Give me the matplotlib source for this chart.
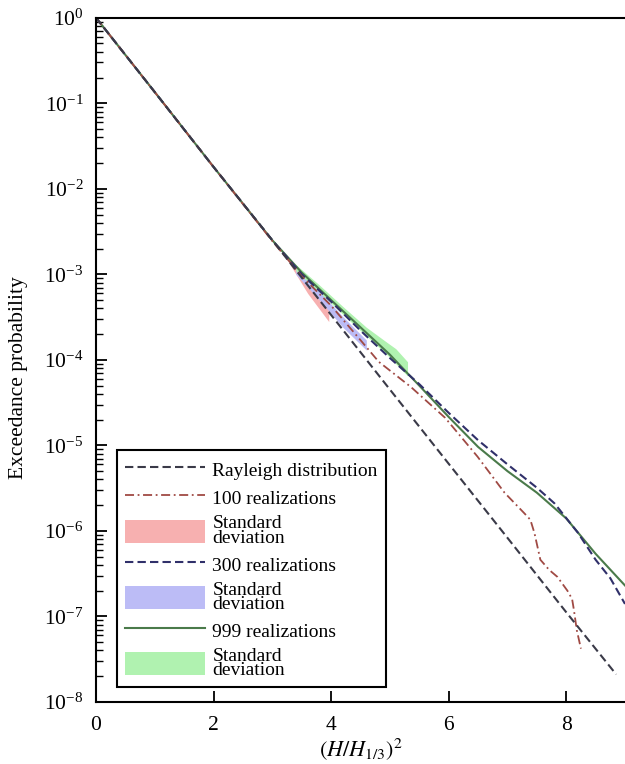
import numpy as np
import matplotlib.pyplot as plt
from matplotlib.patches import Patch, Rectangle
from matplotlib.lines import Line2D
from matplotlib.legend_handler import HandlerPatch

plt.rcParams['font.family'] = ['Liberation Serif', 'DejaVu Serif']
plt.rcParams['mathtext.fontset'] = 'stix'

# Rayleigh
x_ray = [0, 1, 2, 3, 4, 5, 6, 7, 8, 8.85]
p_ray = [1.0, 1.35e-1, 1.8e-2, 2.5e-3, 3.35e-4, 4.5e-5, 6.1e-6, 8.3e-7, 1.12e-7, 2.1e-8]

# 100 realizations
x_100 = [0, 1, 2, 3, 3.5, 4, 4.5, 4.81, 5.36, 5.94, 6.49, 6.95, 7.29, 7.39, 7.46,
         7.56, 7.71, 7.85, 8.02, 8.1, 8.13, 8.18, 8.25]
p_100 = [1, 0.135, 1.8e-2, 2.45e-3, 9.5e-4, 4.3e-4, 1.7e-4, 9.5e-5, 4.8e-5, 2.1e-5,
         7.4e-6, 2.8e-6, 1.6e-6, 1.35e-6, 9.4e-7, 4.6e-7, 3.5e-7, 2.9e-7, 2.0e-7,
         1.6e-7, 1.2e-7, 6.9e-8, 4.2e-8]

# 300 realizations
x_300 = [0, 1, 2, 3, 3.5, 4, 4.5, 5, 5.5, 6, 6.5, 7, 7.5, 7.8, 8.2, 8.5, 8.75, 9]
p_300 = [1, 0.135, 1.8e-2, 2.5e-3, 1.0e-3, 4.8e-4, 2.2e-4, 1.05e-4, 5.2e-5, 2.4e-5,
         1.15e-5, 6.0e-6, 3.2e-6, 2.1e-6, 9.5e-7, 4.6e-7, 2.8e-7, 1.4e-7]

# 999 realizations
x_999 = [0, 1, 2, 3, 3.5, 4, 4.5, 5, 5.28, 5.5, 6, 6.5, 7, 7.5, 8, 8.5, 9]
p_999 = [1, 0.135, 1.8e-2, 2.5e-3, 1.05e-3, 5.0e-4, 2.4e-4, 1.15e-4, 7.2e-5, 5.0e-5,
         2.15e-5, 9.6e-6, 5.0e-6, 2.8e-6, 1.4e-6, 5.4e-7, 2.3e-7]

# standard deviation bands
x_sd100 = [3.3, 3.6, 3.96]
lo_sd100 = [1.3e-3, 6.0e-4, 2.8e-4]
hi_sd100 = [1.5e-3, 8.5e-4, 4.6e-4]

x_sd300 = [3.4, 3.8, 4.2, 4.6]
lo_sd300 = [1.0e-3, 5.0e-4, 2.4e-4, 1.3e-4]
hi_sd300 = [1.25e-3, 6.3e-4, 3.2e-4, 1.7e-4]

x_sd999 = [3.4, 3.8, 4.2, 4.6, 4.95, 5.1, 5.3]
lo_sd999 = [1.1e-3, 6.2e-4, 3.4e-4, 1.9e-4, 1.15e-4, 9.0e-5, 6.5e-5]
hi_sd999 = [1.3e-3, 7.5e-4, 4.2e-4, 2.4e-4, 1.6e-4, 1.35e-4, 9.5e-5]

c_ray = '#3a3a48'
c_100 = '#a04a44'
c_300 = '#30306a'
c_999 = '#4a7a4a'
f_100 = '#f7b0b0'
f_300 = '#bcbcf6'
f_999 = '#b0f2b0'

fig = plt.figure(figsize=(6.25, 7.64), dpi=100)
ax = fig.add_axes([0.1536, 0.0812, 0.8464, 0.8956])

ax.fill_between(x_sd100, lo_sd100, hi_sd100, color=f_100, lw=0)
ax.fill_between(x_sd300, lo_sd300, hi_sd300, color=f_300, lw=0)
ax.fill_between(x_sd999, lo_sd999, hi_sd999, color=f_999, lw=0)

ax.plot(x_999, p_999, color=c_999, lw=1.5)
ax.plot(x_300, p_300, color=c_300, lw=1.5, ls=(0, (4, 2)))
ax.plot(x_100, p_100, color=c_100, lw=1.3, ls=(0, (5, 2, 1, 2)))
ax.plot(x_ray, p_ray, color=c_ray, lw=1.5, ls=(0, (4, 2)))

ax.set_yscale('log')
ax.set_xlim(0, 9)
ax.set_ylim(1e-8, 1)
ax.set_xticks([0, 2, 4, 6, 8])
ax.set_yticks([10.0**k for k in range(-8, 1)])
ax.tick_params(axis='both', which='major', direction='in', length=8, width=1.3, labelsize=15.5)
ax.tick_params(axis='y', which='minor', direction='in', length=5, width=1)
ax.tick_params(axis='x', which='both', top=False, pad=10)
ax.tick_params(axis='y', which='both', right=False, pad=9)
ax.spines['right'].set_visible(False)
for s in ['left', 'bottom', 'top']:
    ax.spines[s].set_linewidth(1.5)

ax.set_xlabel(r'$(H/H_{1/3})^2$', fontsize=16, labelpad=1)
ax.set_ylabel('Exceedance probability', fontsize=15.5)
ax.yaxis.set_label_coords(-0.128, 0.474)


def small_rect(legend, orig_handle, xdescent, ydescent, width, height, fontsize):
    h = 1.2 * fontsize
    return Rectangle((-xdescent, -ydescent + (height - h) / 2), width, h)


handles = [
    Line2D([], [], color=c_ray, lw=1.5, ls=(0, (4, 2))),
    Line2D([], [], color=c_100, lw=1.3, ls=(0, (5, 2, 1, 2))),
    Patch(color=f_100, lw=0),
    Line2D([], [], color=c_300, lw=1.5, ls=(0, (4, 2))),
    Patch(color=f_300, lw=0),
    Line2D([], [], color=c_999, lw=1.5),
    Patch(color=f_999, lw=0),
]
labels = ['Rayleigh distribution', '100 realizations', 'Standard\ndeviation',
          '300 realizations', 'Standard\ndeviation', '999 realizations',
          'Standard\ndeviation']
leg = ax.legend(handles, labels, loc='lower left', bbox_to_anchor=(0.04, 0.022),
                borderaxespad=0, fontsize=14, handlelength=4.1, handleheight=1.45,
                handletextpad=0.4, labelspacing=0.3, borderpad=0.4,
                fancybox=False, framealpha=1, edgecolor='black',
                handler_map={Patch: HandlerPatch(patch_func=small_rect)})
leg.get_frame().set_linewidth(1.5)
for t in leg.get_texts():
    t.set_linespacing(0.8)

fig.savefig('out.png', dpi=100)
